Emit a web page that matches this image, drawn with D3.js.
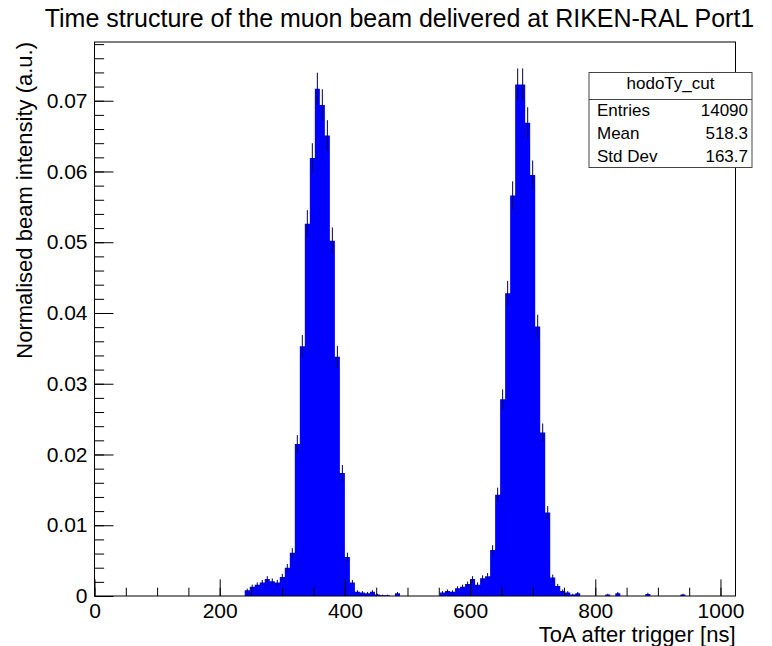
<!DOCTYPE html>
<html>
<head>
<meta charset="utf-8">
<script src="https://cdn.jsdelivr.net/npm/d3@7"></script>
<style>
    body { margin: 0; background: #fff; }
    text { font-family: "Liberation Sans", Arial, Helvetica, sans-serif; fill: #000; }
</style>
</head>
<body>
<div id="chart"></div>
<script>
// histogram hodoTy_cut, 8 ns bins, contents normalised to unit area
const entries = 14090;
const binWidth = 8;
const firstBinLow = 240;
const intensity = [
    0.0008, 0.0013, 0.0016, 0.0019, 0.0024, 0.0021, 0.0019, 0.0027, 0.0040, 0.0061,
    0.0215, 0.0353, 0.0526, 0.0619, 0.0717, 0.0694, 0.0651, 0.0502, 0.0338, 0.0174,
    0.0055, 0.0019, 0.0006, 0.0005, 0.0004, 0.0006, 0.0002, 0.0001, 0.0001, 0,
    0.0004, 0, 0, 0, 0, 0, 0, 0, 0,
    0.0005, 0.0007, 0.0006, 0.0011, 0.0013, 0.0017, 0.0024, 0.0016, 0.0025, 0.0028, 0.0065,
    0.0143, 0.0278, 0.0428, 0.0566, 0.0723, 0.0723, 0.0669, 0.0595, 0.0381, 0.0231,
    0.0118, 0.0026, 0.0014, 0.0007, 0.0005, 0.0002, 0.0004, 0, 0, 0,
    0, 0, 0.0002, 0, 0.0004, 0, 0, 0, 0, 0,
    0.0003, 0, 0, 0, 0, 0, 0, 0.0002
];
const xTicks = [0, 200, 400, 600, 800, 1000];
const yTicks = [0, 0.01, 0.02, 0.03, 0.04, 0.05, 0.06, 0.07];
const statsRows = [["Entries", "14090"], ["Mean", "518.3"], ["Std Dev", "163.7"]];

(function() {
    const W = 772, H = 646;
    const frame = {left: 94.5, right: 735.5, top: 42, bottom: 596};

    const svg = d3.select("#chart")
        .append("svg")
        .attr("width", W)
        .attr("height", H);

    const x = d3.scaleLinear().domain([0, 1024]).range([frame.left, frame.right]);
    const y = d3.scaleLinear().domain([0, 0.0783]).range([frame.bottom, frame.top]);

    const bins = intensity.map((v, i) => ({
        low: firstBinLow + i * binWidth,
        value: v,
        err: Math.sqrt(v / entries)
    }));

    // filled histogram (step outline)
    const stepData = bins.map(b => [b.low, b.value]);
    const last = bins[bins.length - 1];
    stepData.push([last.low + binWidth, last.value]);

    svg.append("path")
        .datum(stepData)
        .attr("fill", "#0000ff")
        .attr("d", d3.area()
            .x(d => x(d[0]))
            .y0(y(0))
            .y1(d => y(d[1]))
            .curve(d3.curveStepAfter));

    // error bars
    svg.append("g")
        .selectAll("line")
        .data(bins.filter(b => b.value > 0))
        .enter()
        .append("line")
        .attr("x1", d => x(d.low + binWidth / 2))
        .attr("x2", d => x(d.low + binWidth / 2))
        .attr("y1", d => y(d.value + d.err))
        .attr("y2", d => y(Math.max(0, d.value - d.err)))
        .attr("stroke", "#000050")
        .attr("stroke-width", 1);

    // y axis (ticks inside the frame)
    const yMinor = d3.range(0, 0.0783, 0.002);
    svg.append("g")
        .attr("transform", `translate(${frame.left},0)`)
        .call(d3.axisLeft(y).tickValues(yMinor).tickSize(-9.6).tickFormat(""))
        .call(g => g.select(".domain").remove());

    svg.append("g")
        .attr("transform", `translate(${frame.left},0)`)
        .call(d3.axisLeft(y).tickValues(yTicks).tickSize(-19).tickPadding(7)
            .tickFormat(d => d === 0 ? "0" : d.toFixed(2)))
        .call(g => g.select(".domain").remove())
        .selectAll("text")
        .style("font-size", "21px")
        .style("font-family", "Liberation Sans, Arial, sans-serif");

    // x axis
    const xMinor = d3.range(0, 1025, 50);
    svg.append("g")
        .attr("transform", `translate(0,${frame.bottom})`)
        .call(d3.axisBottom(x).tickValues(xMinor).tickSize(-8.3).tickFormat(""))
        .call(g => g.select(".domain").remove());

    svg.append("g")
        .attr("transform", `translate(0,${frame.bottom})`)
        .call(d3.axisBottom(x).tickValues(xTicks).tickSize(-16.6).tickPadding(6.8)
            .tickFormat(d3.format("d")))
        .call(g => g.select(".domain").remove())
        .selectAll("text")
        .style("font-size", "21px")
        .style("font-family", "Liberation Sans, Arial, sans-serif");

    svg.selectAll(".tick line").attr("stroke", "#000");

    // frame
    svg.append("rect")
        .attr("x", frame.left)
        .attr("y", frame.top)
        .attr("width", frame.right - frame.left)
        .attr("height", frame.bottom - frame.top)
        .attr("fill", "none")
        .attr("stroke", "#000")
        .attr("stroke-width", 1);

    // axis titles
    svg.append("text")
        .attr("text-anchor", "end")
        .attr("x", frame.right)
        .attr("y", 642)
        .style("font-size", "22px")
        .text("ToA after trigger [ns]");

    svg.append("text")
        .attr("text-anchor", "end")
        .attr("transform", `translate(32,${frame.top}) rotate(-90)`)
        .style("font-size", "22px")
        .text("Normalised beam intensity (a.u.)");

    // title
    svg.append("text")
        .attr("text-anchor", "middle")
        .attr("x", 399.5)
        .attr("y", 27)
        .style("font-size", "25px")
        .text("Time structure of the muon beam delivered at RIKEN-RAL Port1");

    // stats box
    const box = {x: 589, y: 72.5, w: 163, h: 95, head: 27};
    const stats = svg.append("g");
    stats.append("rect")
        .attr("x", box.x)
        .attr("y", box.y)
        .attr("width", box.w)
        .attr("height", box.h)
        .attr("fill", "#fff")
        .attr("stroke", "#444")
        .attr("stroke-width", 1);
    stats.append("line")
        .attr("x1", box.x).attr("x2", box.x + box.w)
        .attr("y1", box.y + box.head).attr("y2", box.y + box.head)
        .attr("stroke", "#444");
    stats.append("text")
        .attr("text-anchor", "middle")
        .attr("x", box.x + box.w / 2)
        .attr("y", 88.5)
        .style("font-size", "17px")
        .text("hodoTy_cut");

    const rowH = (box.h - box.head) / statsRows.length;
    statsRows.forEach((r, i) => {
        const by = box.y + box.head + rowH * (i + 0.5) + 5.5;
        stats.append("text")
            .attr("x", box.x + 8)
            .attr("y", by)
            .style("font-size", "17px")
            .text(r[0]);
        stats.append("text")
            .attr("text-anchor", "end")
            .attr("x", box.x + box.w - 4)
            .attr("y", by)
            .style("font-size", "17px")
            .text(r[1]);
    });
})();
</script>
</body>
</html>
